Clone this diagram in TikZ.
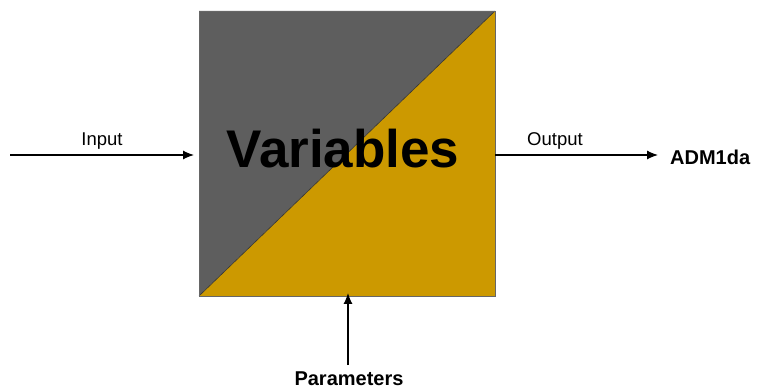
\documentclass[tikz,border=0pt]{standalone}
\usepackage{fontspec}
\setmainfont{Liberation Sans}
\usetikzlibrary{arrows.meta}
\definecolor{boxgrey}{HTML}{5E5E5E}
\definecolor{boxgold}{HTML}{CC9900}
\tikzset{
  flow/.style={draw=black, line width=1.1pt, -{Latex[length=11pt,width=9pt]}},
  lbl/.style={font=\fontsize{18.5}{20}\selectfont, inner sep=0pt},
  blbl/.style={font=\fontsize{20}{22}\selectfont\bfseries, inner sep=0pt},
}
\begin{document}
\begin{tikzpicture}[x=1pt,y=-1pt]
\useasboundingbox (0,0) rectangle (761,390);
% box
\coordinate (tl) at (199,11);
\coordinate (br) at (495,296);
\fill[boxgrey] (199,11) -- (495,11) -- (199,296) -- cycle;
\fill[boxgold] (495,11) -- (495,296) -- (199,296) -- cycle;
\draw[black!80, line width=0.6pt] (199,296) -- (495,11);
\draw[black!60, line width=0.6pt] (tl) rectangle (br);
\node[font=\fontsize{53}{56}\selectfont\bfseries, inner sep=0pt] (var) at (343,149) {Variables};
\coordinate (inL) at (199,155);
\coordinate (outR) at (495,155);
\coordinate (botC) at (348,296);
% input
\coordinate (instart) at (10,155);
\draw[flow] (instart) -- ([xshift=-5pt]inL);
\node[lbl] (input) at (102,141) {Input};
% output
\node[blbl, anchor=west] (adm) at (670,157) {ADM1da};
\coordinate (outend) at (658,155);
\draw[flow] (outR) -- (outend);
\node[lbl] (output) at (555,141) {Output};
% parameters
\node[blbl] (par) at (349,379) {Parameters};
\coordinate (parstart) at (348,365);
\draw[flow] (parstart) -- ([yshift=3pt]botC);
\end{tikzpicture}
\end{document}
